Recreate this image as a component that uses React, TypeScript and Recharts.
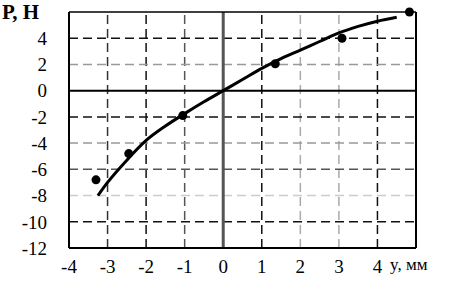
import { ComposedChart, Line, Scatter, XAxis, YAxis, ReferenceLine } from 'recharts'

// fitted curve P(y)
const curveY = [-3.25, -3, -2.5, -2, -1.5, -1, -0.5, 0, 0.5, 1, 1.5, 2, 2.5, 3, 3.5, 4, 4.5]
const curveP = [-8, -7.0, -5.3, -3.8, -2.7, -1.75, -0.85, 0, 0.85, 1.7, 2.45, 3.1, 3.75, 4.4, 4.9, 5.3, 5.6]

// measured points
const pointY = [-3.3, -2.45, -1.05, 1.35, 3.08, 4.83]
const pointP = [-6.8, -4.8, -1.9, 2.05, 4.0, 6.0]

const xTicks = [-4, -3, -2, -1, 0, 1, 2, 3, 4]
const yTicks = [-12, -10, -8, -6, -4, -2, 0, 2, 4]

const curve = curveY.map((y, i) => ({ x: y, p: curveP[i] }))
const points = pointY.map((y, i) => ({ x: y, p: pointP[i] }))

const font = 'Liberation Serif, DejaVu Serif, Tinos, Times New Roman, serif'

// grid lines: value, colour
const vGrid: [number, string][] = [[-3, '#333'], [-2, '#111'], [-1, '#555'], [1, '#111'], [2, '#aaa'], [3, '#aaa'], [4, '#111']]
const hGrid: [number, string][] = [[4, '#111'], [2, '#999'], [-2, '#111'], [-4, '#999'], [-6, '#555'], [-8, '#ccc'], [-10, '#111']]

export default function App() {
    return (
        <div style={{ position: 'absolute', left: 0, top: 0, background: '#fff', fontFamily: font }}>
            <ComposedChart width={473} height={287} margin={{ top: 12, right: 57, left: 0, bottom: 0 }}>
                <XAxis
                    type="number"
                    dataKey="x"
                    domain={[-4, 5]}
                    ticks={xTicks}
                    axisLine={false}
                    tickLine={false}
                    height={39}
                    tick={{ fill: '#000', fontSize: 19, fontFamily: font }}
                    tickMargin={6}
                />
                <YAxis
                    type="number"
                    dataKey="p"
                    domain={[-12, 6]}
                    ticks={yTicks}
                    axisLine={false}
                    tickLine={false}
                    width={69}
                    interval={0}
                    tick={{ fill: '#000', fontSize: 19, fontFamily: font }}
                    tickMargin={16}
                />
                {vGrid.map(([v, c]) => (
                    <ReferenceLine key={'v' + v} x={v} stroke={c} strokeWidth={1.5} strokeDasharray="9 5" />
                ))}
                {hGrid.map(([v, c]) => (
                    <ReferenceLine key={'h' + v} y={v} stroke={c} strokeWidth={1.5} strokeDasharray="9 5" />
                ))}
                <ReferenceLine x={0} stroke="#555" strokeWidth={3} />
                <ReferenceLine y={0} stroke="#000" strokeWidth={2} />
                <ReferenceLine x={-4} stroke="#000" strokeWidth={2} />
                <ReferenceLine x={5} stroke="#000" strokeWidth={2} />
                <ReferenceLine y={-12} stroke="#000" strokeWidth={2} />
                <ReferenceLine y={6} stroke="#000" strokeWidth={1.5} />
                <Line
                    data={curve}
                    dataKey="p"
                    type="monotone"
                    stroke="#000"
                    strokeWidth={3}
                    dot={false}
                    isAnimationActive={false}
                />
                <Scatter data={points} dataKey="p" fill="#000" shape={(props: any) => <circle cx={props.cx} cy={props.cy} r={4.5} fill="#000" />} isAnimationActive={false} />
            </ComposedChart>
            <div style={{ position: 'absolute', left: 2, top: 0, fontWeight: 'bold', fontSize: 21 }}>Р, Н</div>
            <div style={{ position: 'absolute', left: 390, top: 255, fontSize: 17 }}>y, мм</div>
        </div>
    )
}
